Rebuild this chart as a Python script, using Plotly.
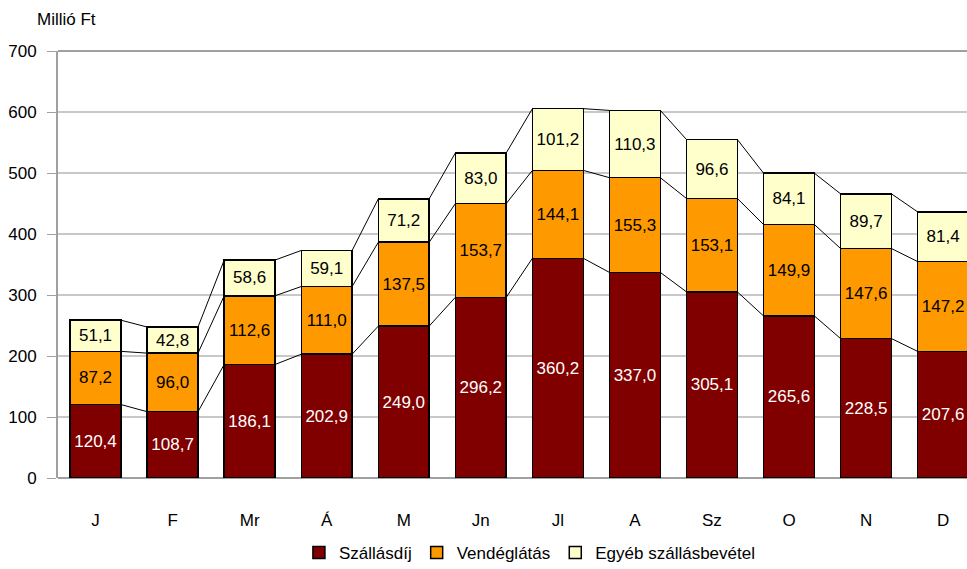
import plotly.graph_objects as go

months = ["J", "F", "Mr", "Á", "M", "Jn", "Jl", "A", "Sz", "O", "N", "D"]
szallasdij = [120.4, 108.7, 186.1, 202.9, 249.0, 296.2, 360.2, 337.0, 305.1, 265.6, 228.5, 207.6]
vendeglatas = [87.2, 96.0, 112.6, 111.0, 137.5, 153.7, 144.1, 155.3, 153.1, 149.9, 147.6, 147.2]
egyeb = [51.1, 42.8, 58.6, 59.1, 71.2, 83.0, 101.2, 110.3, 96.6, 84.1, 89.7, 81.4]

names = ["Szállásdíj", "Vendéglátás", "Egyéb szállásbevétel"]
colors = ["#800000", "#FF9900", "#FFFFCC"]
text_colors = ["white", "black", "black"]
series = [szallasdij, vendeglatas, egyeb]

FONT = "Liberation Sans, Arial, sans-serif"
FS = 17
bargap = 0.34
bw = 1 - bargap

fig = go.Figure()
x = list(range(len(months)))
for name, vals, col, tc in zip(names, series, colors, text_colors):
    fig.add_trace(go.Bar(
        x=x, y=vals, name=name,
        marker=dict(color=col, line=dict(color="black", width=1.5)),
        text=[f"{v:.1f}".replace(".", ",") for v in vals],
        textposition="inside", insidetextanchor="middle", textangle=0,
        textfont=dict(color=tc, size=FS, family=FONT),
        hoverinfo="skip",
    ))

# series lines connecting tops of stacked segments
cum = [0] * len(months)
for vals in series:
    cum = [c + v for c, v in zip(cum, vals)]
    lx, ly = [], []
    for i in range(len(months) - 1):
        lx += [i + bw / 2, i + 1 - bw / 2, None]
        ly += [cum[i], cum[i + 1], None]
    fig.add_trace(go.Scatter(x=lx, y=ly, mode="lines", line=dict(color="black", width=1),
                             showlegend=False, hoverinfo="skip"))

fig.update_layout(
    barmode="stack", bargap=bargap,
    width=967, height=569,
    margin=dict(l=58, r=0, t=51, b=91),
    paper_bgcolor="white", plot_bgcolor="white",
    font=dict(family=FONT, size=FS, color="black"),
    uniformtext=dict(minsize=FS, mode="show"),
    legend=dict(orientation="h", xref="container", yref="container",
                x=0.548, xanchor="center", y=0.028, yanchor="middle",
                font=dict(size=FS, family=FONT), traceorder="normal",
                itemwidth=30, tracegroupgap=0),
    annotations=[dict(text="Millió Ft", xref="paper", yref="paper", x=-0.025, y=1.0726,
                      xanchor="left", yanchor="middle", showarrow=False,
                      font=dict(size=17, family=FONT))],
)
fig.update_xaxes(
    tickmode="array", tickvals=x, ticktext=months,
    range=[-0.487, 11.31], showgrid=False, zeroline=False,
    showline=False, ticks="", ticklabelstandoff=30,
    tickfont=dict(size=FS, family=FONT),
)
fig.update_yaxes(
    range=[0, 700], dtick=100, showgrid=True, gridcolor="#C8C8C8", gridwidth=1.5,
    zeroline=True, zerolinecolor="#A0A0A0", zerolinewidth=1.5,
    showline=True, linecolor="#A0A0A0", linewidth=2, mirror=False,
    ticks="outside", ticklen=9, tickcolor="#A0A0A0", ticklabelstandoff=7,
    tickfont=dict(size=FS, family=FONT),
)
fig.add_shape(type="line", xref="paper", yref="paper", x0=0, x1=1, y0=1, y1=1,
              line=dict(color="#A0A0A0", width=2))
fig.write_html("out.html", config={"displayModeBar": False},
               post_script="document.body.style.margin='0';document.body.style.overflow='hidden';")
